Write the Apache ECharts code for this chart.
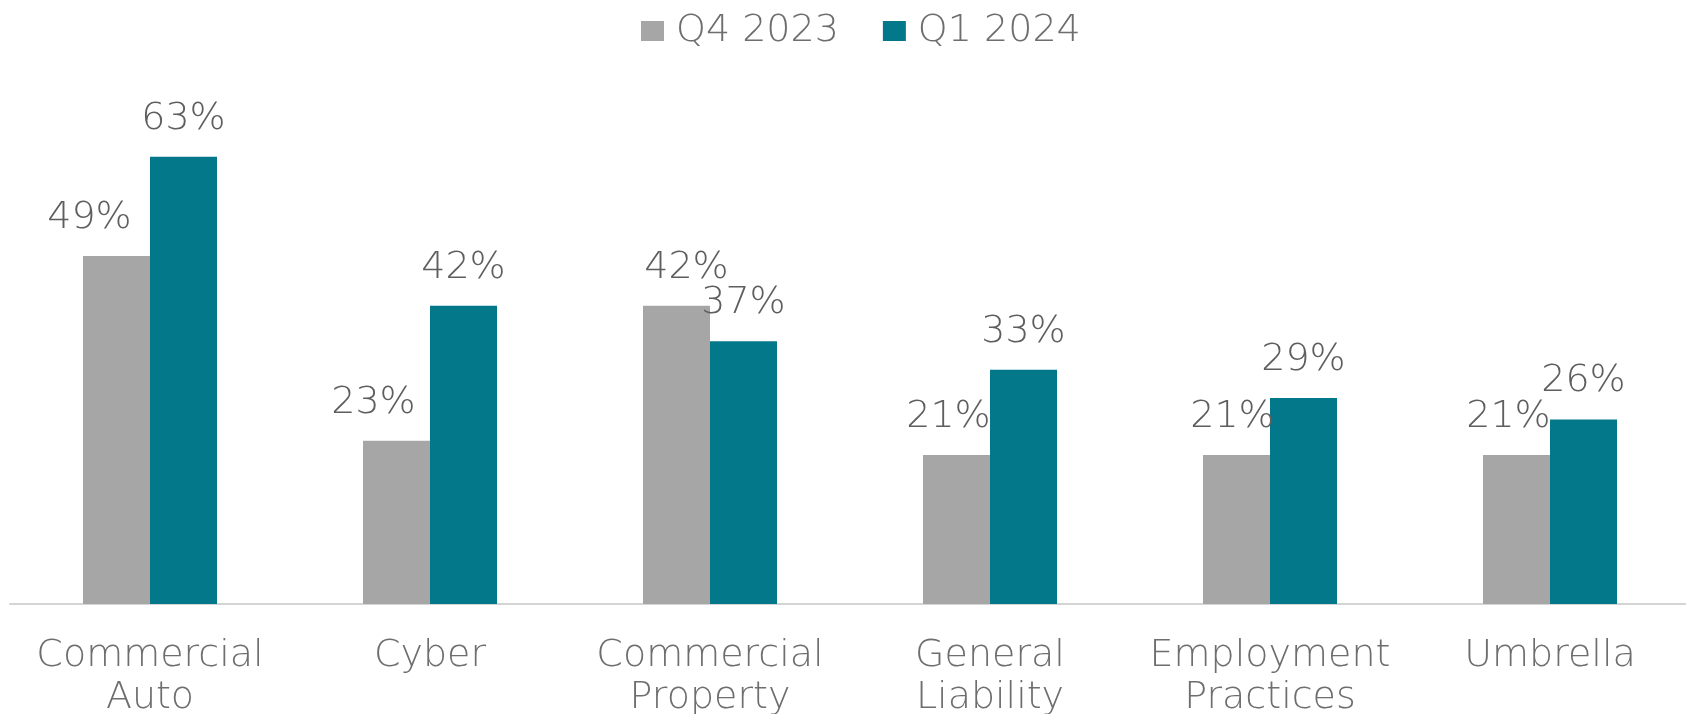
<!DOCTYPE html>
<html>
<head>
<meta charset="utf-8">
<script src="https://cdn.jsdelivr.net/npm/echarts@6/dist/echarts.min.js"></script>
<style>
  html, body { margin: 0; padding: 0; background: #ffffff; }
  #chart { width: 1686px; height: 714px; }
</style>
</head>
<body>
<div id="chart"></div>
<script>
// Lines of business and their share for each quarter (%)
const categories = ['Commercial\nAuto', 'Cyber', 'Commercial\nProperty', 'General\nLiability', 'Employment\nPractices', 'Umbrella'];
const seriesNames = ['Q4 2023', 'Q1 2024'];
const q4_2023 = [49, 23, 42, 21, 21, 21];
const q1_2024 = [63, 42, 37, 33, 29, 26];

// Horizontal nudges for the Q4 labels so they clear the neighbouring bar
const q4LabelShift = [-27, -23, 10, -8, -4, -8];

const FONT = '"DejaVu Sans", sans-serif';

const chart = echarts.init(document.getElementById('chart'));

chart.setOption({
  animation: false,
  backgroundColor: '#ffffff',
  textStyle: { fontFamily: FONT, fontWeight: 200 },
  legend: {
    data: seriesNames,
    left: 636,
    top: 7,
    icon: 'rect',
    itemWidth: 23,
    itemHeight: 20,
    itemGap: 44,
    textStyle: { fontFamily: FONT, fontSize: 38, color: '#6e6e6e', fontWeight: 200, padding: [0, 0, 0, 7] }
  },
  grid: { left: 10, right: -4, top: 107, bottom: 110, containLabel: false, outerBoundsMode: 'none' },
  xAxis: {
    type: 'category',
    data: categories,
    axisLine: { lineStyle: { color: '#d4d4d4', width: 2 } },
    axisTick: { show: false },
    axisLabel: {
      fontFamily: FONT, fontSize: 38, color: '#6e6e6e', fontWeight: 200,
      lineHeight: 42, margin: 31, interval: 0
    }
  },
  yAxis: {
    type: 'value', min: 0, max: 70, show: false,
    splitLine: { show: false }
  },
  series: [
    {
      name: seriesNames[0],
      type: 'bar',
      barWidth: 67,
      barGap: '0%',
      itemStyle: { color: '#a6a6a6' },
      data: q4_2023.map((v, i) => ({
        value: v,
        label: { offset: [q4LabelShift[i], 0] }
      })),
      label: {
        show: true, position: 'top', distance: 19,
        formatter: '{c}%',
        fontFamily: FONT, fontSize: 38, color: '#5e5e5e', fontWeight: 200
      }
    },
    {
      name: seriesNames[1],
      type: 'bar',
      barWidth: 67,
      itemStyle: { color: '#03788a' },
      data: q1_2024,
      label: {
        show: true, position: 'top', distance: 19,
        formatter: '{c}%',
        fontFamily: FONT, fontSize: 38, color: '#5e5e5e', fontWeight: 200
      }
    }
  ]
});
</script>
</body>
</html>
